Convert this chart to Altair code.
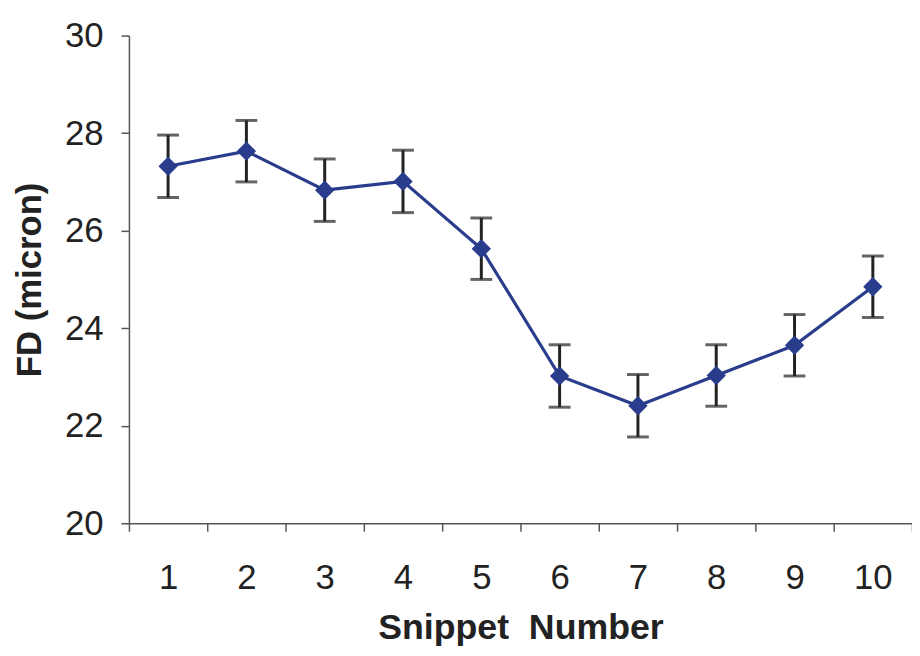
import altair as alt
import pandas as pd

# Data
snippets = [1, 2, 3, 4, 5, 6, 7, 8, 9, 10]
fd_mean = [27.32, 27.63, 26.83, 27.01, 25.63, 23.02, 22.41, 23.03, 23.65, 24.85]
fd_err = [0.64, 0.63, 0.64, 0.64, 0.63, 0.64, 0.64, 0.63, 0.63, 0.63]
y_ticks = [20, 22, 24, 26, 28, 30]

df = pd.DataFrame({"snippet": snippets, "fd": fd_mean, "err": fd_err})
df["lo"] = df["fd"] - df["err"]
df["hi"] = df["fd"] + df["err"]

NAVY = "#2A3C8C"
BAR = "#222222"
FONT = "Liberation Sans"

x_enc = alt.X(
    "snippet:O",
    scale=alt.Scale(type="band", paddingInner=0, paddingOuter=0),
    axis=alt.Axis(
        title="Snippet\u00a0\u00a0Number",
        labelAngle=0,
        tickBand="extent",
        tickSize=8,
        labelPadding=30,
        titlePadding=15,
        labelFontSize=35,
        titleFontSize=36,
    ),
)
y_scale = alt.Scale(domain=[20, 30], nice=False, zero=False)
y_axis = alt.Axis(
    title="FD (micron)",
    values=y_ticks,
    grid=False,
    tickSize=8,
    labelPadding=18,
    titlePadding=17,
    labelFontSize=35,
    titleFontSize=35,
)

base = alt.Chart(df)

rules = base.mark_rule(color=BAR, strokeWidth=3).encode(
    x=x_enc,
    y=alt.Y("lo:Q", scale=y_scale, axis=y_axis),
    y2="hi:Q",
)
cap_lo = base.mark_tick(color=BAR, size=22, thickness=3, orient="horizontal").encode(
    x=x_enc, y=alt.Y("lo:Q", scale=y_scale, axis=y_axis)
)
cap_hi = base.mark_tick(color=BAR, size=22, thickness=3, orient="horizontal").encode(
    x=x_enc, y=alt.Y("hi:Q", scale=y_scale, axis=y_axis)
)
line = base.mark_line(color=NAVY, strokeWidth=3.2).encode(
    x=x_enc, y=alt.Y("fd:Q", scale=y_scale, axis=y_axis)
)
points = base.mark_point(
    shape="diamond", filled=True, size=380, color=NAVY, opacity=1
).encode(x=x_enc, y=alt.Y("fd:Q", scale=y_scale, axis=y_axis))

chart = (
    alt.layer(rules, cap_lo, cap_hi, line, points)
    .properties(
        width=790,
        height=492,
        autosize=alt.AutoSizeParams(type="none"),
        padding={"left": 122, "top": 25, "right": 0, "bottom": 123},
        background="white",
    )
    .configure_view(stroke=None)
    .configure_axis(
        domainColor="#555555",
        domainWidth=1.5,
        tickColor="#555555",
        tickWidth=1.5,
        labelFont=FONT,
        titleFont=FONT,
        labelColor="#222222",
        titleColor="#222222",
        titleFontWeight="bold",
        labelFontWeight="normal",
    )
)

chart.save("out.html", embed_options={"renderer": "svg", "actions": False})
